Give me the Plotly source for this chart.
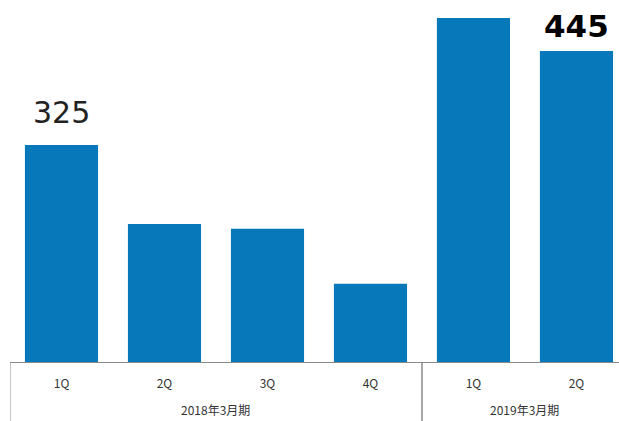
import plotly.graph_objects as go

groups = ["2018年3月期"] * 4 + ["2019年3月期"] * 2
quarters = ["1Q", "2Q", "3Q", "4Q", "1Q", "2Q"]
values = [325, 224, 218, 148, 487, 445]
labeled = {0: ("325", "normal", "#222222", 13, 30), 5: ("445", "bold", "#000000", 5, 31)}

ids = [f"{g} {q}" for g, q in zip(groups, quarters)]

fig = go.Figure()
fig.add_trace(go.Bar(
    x=ids, y=values,
    marker=dict(color="#0779BA", line=dict(width=0)),
    width=0.71,
))

for i, (txt, w, c, ys, sz) in labeled.items():
    fig.add_annotation(x=ids[i], y=values[i], xref="x", yref="y", text=txt,
                       showarrow=False, yanchor="bottom", yshift=ys,
                       font=dict(size=sz, color=c, weight=w,
                                 family="DejaVu Sans"))

# group labels and dividers
plot_h = 362
group_names = []
for g in groups:
    if g not in group_names:
        group_names.append(g)
for g in group_names:
    idx = [i for i, gg in enumerate(groups) if gg == g]
    center = (idx[0] + idx[-1]) / 2
    fig.add_annotation(x=center, y=0, xref="x", yref="paper", text=g,
                       showarrow=False, yanchor="middle", yshift=-47,
                       font=dict(size=12, color="#333333"))
    for b in (idx[0] - 0.5, idx[-1] + 0.5):
        fig.add_shape(type="line", xref="x", yref="paper",
                      x0=b, x1=b, y0=0, y1=-60 / plot_h,
                      line=dict(color="#8a8a8a", width=1))

fig.update_layout(
    width=619, height=421,
    margin=dict(l=10, r=0, t=0, b=59),
    plot_bgcolor="white", paper_bgcolor="white",
    showlegend=False,
    font=dict(family="Noto Sans CJK JP", size=12, color="#333333"),
)
fig.update_xaxes(
    type="category", range=[-0.5, 5.413],
    tickvals=ids, ticktext=quarters,
    showline=True, linecolor="#8a8a8a", linewidth=1,
    ticks="", ticklabelstandoff=11,
    tickfont=dict(size=12, color="#333333"),
)
fig.update_yaxes(range=[48, 510], visible=False, showgrid=False)

fig.write_html("out.html")
